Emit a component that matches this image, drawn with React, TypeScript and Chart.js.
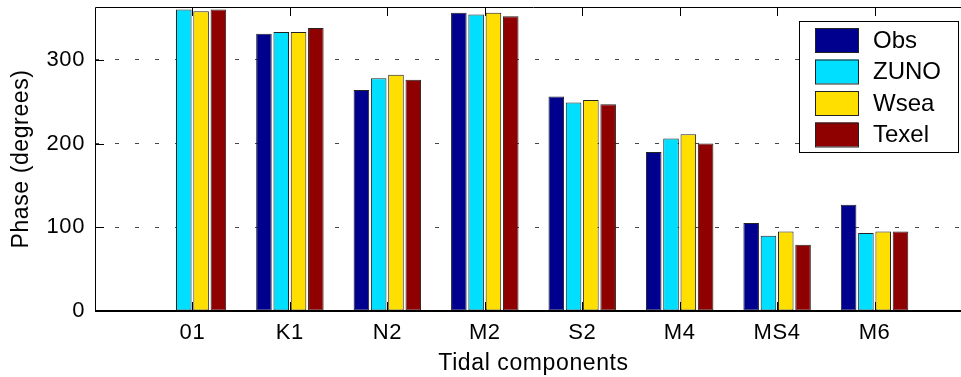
import { useEffect, useRef } from "react";
import { Chart, registerables } from "chart.js";

Chart.register(...registerables);

// Tidal constituents along the x axis
const components = ["01", "K1", "N2", "M2", "S2", "M4", "MS4", "M6"];

// Phase (degrees) per constituent for each source
const obsPhase = [null, 331, 264, 356, 256, 190, 105, 127];
const zunoPhase = [360, 333, 278, 354, 249, 206, 90, 93];
const wseaPhase = [358, 333, 282, 356, 252, 211, 95, 95];
const texelPhase = [360, 338, 276, 352, 247, 200, 79, 95];

const seriesNames = ["Obs", "ZUNO", "Wsea", "Texel"];
const seriesColors = ["#00008F", "#00DFFF", "#FFDF00", "#8F0000"];

const yTickValues = [0, 100, 200, 300];
const yMin = 0;
const yMax = 363;

const FONT = "'Liberation Sans', Arial, Helvetica, sans-serif";

// One empty slot on each side of the constituents, like an axis running 0..9
const pad = <T,>(arr: T[]) => [null, ...arr, null];
const axisLabels = ["", ...components, ""];

const CANVAS_W = 1000;
const CANVAS_H = 377;

// Axis text is drawn slightly tracked out
const spacingPlugin = {
  id: "spacing",
  beforeDraw(chart: any) {
    chart.ctx.letterSpacing = "0.6px";
  },
};

// Inward tick marks on the edges of the plot box
const tickMarksPlugin = {
  id: "tickMarks",
  beforeDatasetsDraw(chart: any) {
    const { ctx, chartArea } = chart;
    const { left, top, bottom } = chartArea;
    const xs = chart.scales.x;
    const ys = chart.scales.y;
    ctx.save();
    ctx.strokeStyle = "#000";
    ctx.lineWidth = 1;
    ctx.beginPath();
    xs.ticks.forEach((_t: any, i: number) => {
      if (!axisLabels[i]) return;
      const px = Math.round(xs.getPixelForTick(i)) + 0.5;
      ctx.moveTo(px, top);
      ctx.lineTo(px, top + 9);
      ctx.moveTo(px, bottom);
      ctx.lineTo(px, bottom - 9);
    });
    ys.ticks.forEach((t: any) => {
      const py = Math.round(ys.getPixelForValue(t.value)) + 0.5;
      ctx.moveTo(left, py);
      ctx.lineTo(left + 9, py);
    });
    ctx.stroke();
    ctx.restore();
  },
};

// Solid box round the plotting area
const framePlugin = {
  id: "frame",
  afterDatasetsDraw(chart: any) {
    const { ctx, chartArea } = chart;
    const { left, top, right, bottom } = chartArea;
    ctx.save();
    ctx.strokeStyle = "#000";
    ctx.lineWidth = 1;
    ctx.beginPath();
    ctx.moveTo(left + 0.5, bottom);
    ctx.lineTo(left + 0.5, top + 0.5);
    ctx.lineTo(right - 0.5, top + 0.5);
    ctx.lineTo(right - 0.5, bottom);
    ctx.stroke();
    ctx.lineWidth = 2;
    ctx.beginPath();
    ctx.moveTo(left, bottom);
    ctx.lineTo(right, bottom);
    ctx.stroke();
    ctx.restore();
  },
};

// Boxed legend in the upper right corner of the plot
const boxLegendPlugin = {
  id: "boxLegend",
  afterDraw(chart: any) {
    const { ctx, chartArea } = chart;
    const boxRight = chartArea.right - 14;
    const boxLeft = boxRight - 159;
    const boxTop = chartArea.top + 14;
    const boxH = 131;
    ctx.save();
    ctx.letterSpacing = "0px";
    ctx.fillStyle = "#fff";
    ctx.fillRect(boxLeft, boxTop, boxRight - boxLeft, boxH);
    ctx.strokeStyle = "#000";
    ctx.lineWidth = 1;
    ctx.strokeRect(boxLeft + 0.5, boxTop + 0.5, boxRight - boxLeft, boxH);
    ctx.font = `24px ${FONT}`;
    ctx.textBaseline = "middle";
    ctx.textAlign = "left";
    chart.data.datasets.forEach((ds: any, i: number) => {
      const rowTop = boxTop + 7 + i * 31.5;
      const sx = boxLeft + 16;
      ctx.fillStyle = ds.backgroundColor;
      ctx.fillRect(sx, rowTop, 43, 24);
      ctx.strokeStyle = "#222";
      ctx.strokeRect(sx + 0.5, rowTop + 0.5, 43, 24);
      ctx.fillStyle = "#000";
      ctx.fillText(ds.label, sx + 58, rowTop + 13);
    });
    ctx.restore();
  },
};

export default function App() {
  const canvasRef = useRef<HTMLCanvasElement | null>(null);

  useEffect(() => {
    const canvas = canvasRef.current;
    if (!canvas) return;
    const seriesData = [obsPhase, zunoPhase, wseaPhase, texelPhase];
    const chart = new Chart(canvas, {
      type: "bar",
      data: {
        labels: axisLabels,
        datasets: seriesNames.map((name, i) => ({
          label: name,
          data: pad(seriesData[i] as (number | null)[]),
          backgroundColor: seriesColors[i],
          borderColor: "#222",
          borderWidth: 1,
          borderSkipped: false,
          categoryPercentage: 0.71,
          barPercentage: 0.9,
        })),
      },
      options: {
        responsive: false,
        animation: false,
        devicePixelRatio: 1,
        layout: { padding: { left: 0, top: 7, right: CANVAS_W - 972, bottom: 0 } },
        plugins: {
          legend: { display: false },
          tooltip: { enabled: false },
        },
        scales: {
          x: {
            type: "category",
            offset: false,
            grid: { display: false, drawTicks: false },
            border: { display: false },
            ticks: {
              autoSkip: false,
              maxRotation: 0,
              minRotation: 0,
              padding: 9,
              color: "#000",
              font: { family: FONT, size: 22 },
            },
            title: {
              display: true,
              text: "Tidal components",
              color: "#000",
              font: { family: FONT, size: 23 },
              padding: { top: 0, bottom: 0 },
            },
            afterFit: (s: any) => {
              s.height = CANVAS_H - 311;
              s.paddingLeft = 0;
              s.paddingRight = 0;
            },
          },
          y: {
            type: "linear",
            min: yMin,
            max: yMax,
            grid: { color: "#444", lineWidth: 1, drawTicks: false },
            border: { display: false, dash: [4, 16] },
            afterBuildTicks: (s: any) => {
              s.ticks = yTickValues.map((v) => ({ value: v }));
            },
            ticks: {
              padding: 10,
              color: "#000",
              font: { family: FONT, size: 22 },
            },
            title: {
              display: true,
              text: "Phase (degrees)",
              color: "#000",
              font: { family: FONT, size: 23 },
              padding: { top: 8, bottom: 0 },
            },
            afterFit: (s: any) => {
              s.width = 95;
              s.paddingTop = 0;
              s.paddingBottom = 0;
            },
          },
        },
      },
      plugins: [spacingPlugin, tickMarksPlugin, framePlugin, boxLegendPlugin],
    });
    return () => chart.destroy();
  }, []);

  return (
    <div
      style={{
        position: "fixed",
        left: 0,
        top: 0,
        width: 961,
        height: 377,
        overflow: "hidden",
        background: "#fff",
      }}
    >
      <canvas
        ref={canvasRef}
        width={CANVAS_W}
        height={CANVAS_H}
        style={{ display: "block", width: CANVAS_W, height: CANVAS_H }}
      />
    </div>
  );
}
